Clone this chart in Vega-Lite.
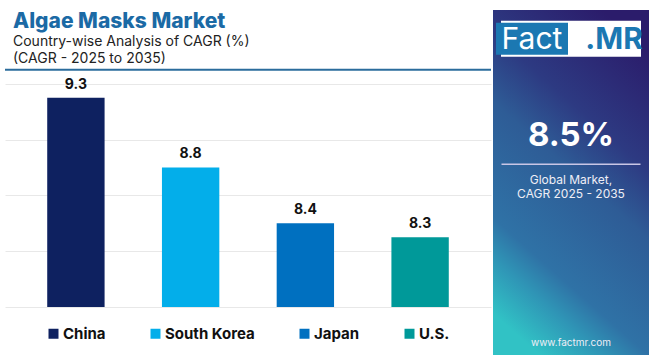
{
  "$schema": "https://vega.github.io/schema/vega-lite/v6.json",
  "background": "white",
  "padding": {"left": 4, "top": 10, "right": 0, "bottom": 0},
  "spacing": 1,
  "resolve": {"scale": {"color": "independent"}, "legend": {"color": "independent"}},
  "config": {
    "view": {"stroke": null},
    "font": "Inter",
    "legend": {"layout": {"bottom": {"anchor": "middle"}}}
  },
  "hconcat": [
    {
      "width": 486,
      "height": 297,
      "title": {
        "text": "Algae Masks Market",
        "subtitle": ["Country-wise Analysis of CAGR (%)", "(CAGR - 2025 to 2035)"],
        "anchor": "start",
        "dx": 9,
        "font": "Inter",
        "fontSize": 21,
        "fontWeight": 800,
        "color": "#1b6aa5",
        "subtitleFont": "Inter",
        "subtitleFontSize": 14,
        "subtitleColor": "#222222",
        "subtitleLineHeight": 17,
        "subtitlePadding": 3,
        "offset": -56
      },
      "data": {
        "values": [
          {"country": "China", "cagr": 9.3},
          {"country": "South Korea", "cagr": 8.8},
          {"country": "Japan", "cagr": 8.4},
          {"country": "U.S.", "cagr": 8.3}
        ]
      },
      "layer": [
        {
          "mark": {"type": "bar", "clip": true},
          "encoding": {
            "x": {
              "field": "country", "type": "nominal", "sort": null,
              "scale": {"paddingInner": 0.5, "paddingOuter": 0.368},
              "axis": null
            },
            "y": {
              "field": "cagr", "type": "quantitative",
              "scale": {"domain": [7.8, 9.929], "zero": false, "nice": false},
              "axis": {
                "labels": false, "ticks": false, "domain": false, "title": null,
                "grid": true, "gridColor": "#e8e8e8", "gridWidth": 1,
                "values": [7.8, 8.0, 8.2, 8.4, 8.6, 8.8, 9.0, 9.2, 9.4]
              }
            },
            "color": {
              "field": "country", "type": "nominal",
              "scale": {
                "domain": ["China", "South Korea", "Japan", "U.S."],
                "range": ["#0e2160", "#03aeea", "#0070c0", "#009999"]
              },
              "legend": {
                "orient": "bottom",
                "direction": "horizontal",
                "title": null,
                "symbolType": "square",
                "symbolSize": 100,
                "symbolStrokeWidth": 0,
                "labelFont": "Inter",
                "labelFontSize": 15,
                "labelFontWeight": "bold",
                "labelColor": "#111111",
                "labelOffset": 2,
                "columnPadding": 42,
                "offset": 19
              }
            }
          }
        },
        {
          "mark": {"type": "text", "dy": -9, "baseline": "alphabetic", "fontSize": 14, "fontWeight": "bold", "font": "Inter", "color": "#111111"},
          "encoding": {
            "x": {"field": "country", "type": "nominal", "sort": null},
            "y": {"field": "cagr", "type": "quantitative"},
            "text": {"field": "cagr", "type": "quantitative", "format": ".1f"}
          }
        },
        {
          "data": {"values": [{"line": "top"}]},
          "mark": {"type": "rule", "color": "#2b6c9c", "strokeWidth": 2},
          "encoding": {"y": {"datum": 9.5, "type": "quantitative"}}
        }
      ]
    },
    {
      "width": 156,
      "height": 345,
      "layer": [
        {
          "data": {"values": [{"panel": "bg"}]},
          "mark": {
            "type": "rect",
            "color": {
              "gradient": "linear", "x1": 0.7, "y1": 0, "x2": 0.3, "y2": 1,
              "stops": [
                {"offset": 0, "color": "#2b1c6b"},
                {"offset": 0.3, "color": "#2d3a82"},
                {"offset": 0.47, "color": "#2e5c96"},
                {"offset": 0.76, "color": "#2f72a6"},
                {"offset": 0.86, "color": "#2f95b6"},
                {"offset": 1, "color": "#31c2c5"}
              ]
            }
          },
          "encoding": {}
        },
        {
          "data": {"values": [{"col": "center", "slot": "logo"}]},
          "mark": {"type": "point", "shape": "M-1,-0.257H1V0.257H-1Z", "size": 19600, "filled": true, "color": "white", "opacity": 1, "strokeWidth": 0},
          "encoding": {
            "x": {"field": "col", "type": "nominal", "scale": {"type": "point", "domain": ["fact", "center", "mr"], "padding": 1.364}, "axis": null},
            "y": {"field": "slot", "type": "nominal", "scale": {"type": "point", "padding": 0, "domain": ["s0","s1","logo","s3","s4","s5","s6","s7","s8","value","s10","rule","g1","g2","s14","s15","s16","s17","s18","s19","s20","s21","s22","url","s24"]}, "axis": null}
          }
        },
        {
          "data": {"values": [{"col": "fact", "slot": "logo"}]},
          "mark": {"type": "point", "shape": "M-1,-0.444H1V0.444H-1Z", "size": 5184, "filled": true, "color": "#1b78b2", "opacity": 1, "strokeWidth": 0},
          "encoding": {
            "x": {"field": "col", "type": "nominal"},
            "y": {"field": "slot", "type": "nominal"}
          }
        },
        {
          "data": {"values": [{"col": "fact", "slot": "logo", "label": "Fact"}]},
          "mark": {"type": "text", "font": "Inter", "fontSize": 30, "fontWeight": 400, "color": "white", "baseline": "middle", "dy": 1},
          "encoding": {
            "x": {"field": "col", "type": "nominal"},
            "y": {"field": "slot", "type": "nominal"},
            "text": {"field": "label"}
          }
        },
        {
          "data": {"values": [{"col": "mr", "slot": "logo", "label": ".MR"}]},
          "mark": {"type": "text", "font": "Inter", "fontSize": 30, "fontWeight": 700, "color": "#1b78b2", "baseline": "middle", "dx": 4, "dy": 1},
          "encoding": {
            "x": {"field": "col", "type": "nominal"},
            "y": {"field": "slot", "type": "nominal"},
            "text": {"field": "label"}
          }
        },
        {
          "data": {"values": [{"col": "center", "slot": "value", "label": "8.5%"}]},
          "mark": {"type": "text", "font": "Inter", "fontSize": 33, "fontWeight": 700, "color": "white", "baseline": "middle", "dy": -3},
          "encoding": {
            "x": {"field": "col", "type": "nominal"},
            "y": {"field": "slot", "type": "nominal"},
            "text": {"field": "label"}
          }
        },
        {
          "data": {"values": [{"col": "center", "slot": "rule"}]},
          "mark": {"type": "point", "shape": "M-1,0H1", "size": 19321, "filled": false, "stroke": "#c9c6e6", "strokeWidth": 1.5, "opacity": 1, "yOffset": -4},
          "encoding": {
            "x": {"field": "col", "type": "nominal"},
            "y": {"field": "slot", "type": "nominal"}
          }
        },
        {
          "data": {"values": [
            {"col": "center", "slot": "g1", "label": "Global Market,"},
            {"col": "center", "slot": "g2", "label": "CAGR 2025 - 2035"}
          ]},
          "mark": {"type": "text", "font": "Inter", "fontSize": 12, "fontWeight": 400, "color": "#eeeef6", "baseline": "middle", "dy": -3},
          "encoding": {
            "x": {"field": "col", "type": "nominal"},
            "y": {"field": "slot", "type": "nominal"},
            "text": {"field": "label"}
          }
        },
        {
          "data": {"values": [{"col": "center", "slot": "url", "label": "www.factmr.com"}]},
          "mark": {"type": "text", "font": "Inter", "fontSize": 10, "fontWeight": 400, "color": "#eeeef6", "baseline": "middle", "dy": 2},
          "encoding": {
            "x": {"field": "col", "type": "nominal"},
            "y": {"field": "slot", "type": "nominal"},
            "text": {"field": "label"}
          }
        }
      ]
    }
  ]
}
